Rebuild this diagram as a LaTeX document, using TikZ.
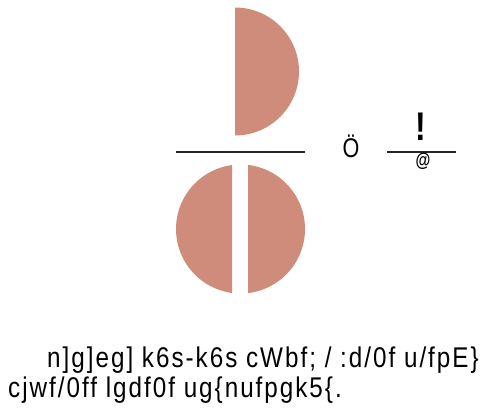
\documentclass[tikz,border=0pt]{standalone}
\usepackage{fontspec}
\newfontfamily\narrowfont[FakeStretch=0.8]{Liberation Sans}
\newfontfamily\bottomfont[FakeStretch=0.85,LetterSpace=7]{Liberation Sans}
\definecolor{pie}{RGB}{207,140,122}
\begin{document}
\begin{tikzpicture}[x=1pt,y=1pt]
  \useasboundingbox (0,0) rectangle (486,415);
  % 上半圆
  \coordinate (T) at (235,343.5);
  \fill[pie] (235,407.5) arc[start angle=90,end angle=-90,radius=64] -- cycle;
  % 分数线
  \coordinate (L1) at (176,263);
  \coordinate (L2) at (305,263);
  \draw[line width=1.3pt,black!85] (L1) -- (L2);
  % 下面的圆，中间切开
  \coordinate (B) at (240.5,186);
  \begin{scope}
    \clip (170,100) rectangle (232,260);
    \fill[pie] (B) circle (64.5);
  \end{scope}
  \begin{scope}
    \clip (248,100) rectangle (312,260);
    \fill[pie] (B) circle (64.5);
  \end{scope}
  % 右边的分数
  \node[anchor=base] (eq) at (351,257) {\narrowfont\fontsize{27}{27}\selectfont Ö};
  \coordinate (R1) at (387,263);
  \coordinate (R2) at (456,263);
  \draw[line width=1.3pt,black!85] (R1) -- (R2);
  \node[anchor=base] (num) at (421,274) {\narrowfont\bfseries\fontsize{40}{40}\selectfont !};
  \node[anchor=base] (den) at (423,248) {\narrowfont\bfseries\fontsize{19}{19}\selectfont @};
  % 下面的文字
  \node[anchor=base west,inner sep=0] (line1) at (47,48)
    {\bottomfont\fontsize{28.5}{30}\selectfont n]g]eg] k6s-k6s cWbf; / :d/0f u/fpE\}};
  \node[anchor=base west,inner sep=0] (line2) at (8,18)
    {\bottomfont\fontsize{28.5}{30}\selectfont cjwf/0ff lgdf0f ug\{nufpgk5\{.};
\end{tikzpicture}
\end{document}
